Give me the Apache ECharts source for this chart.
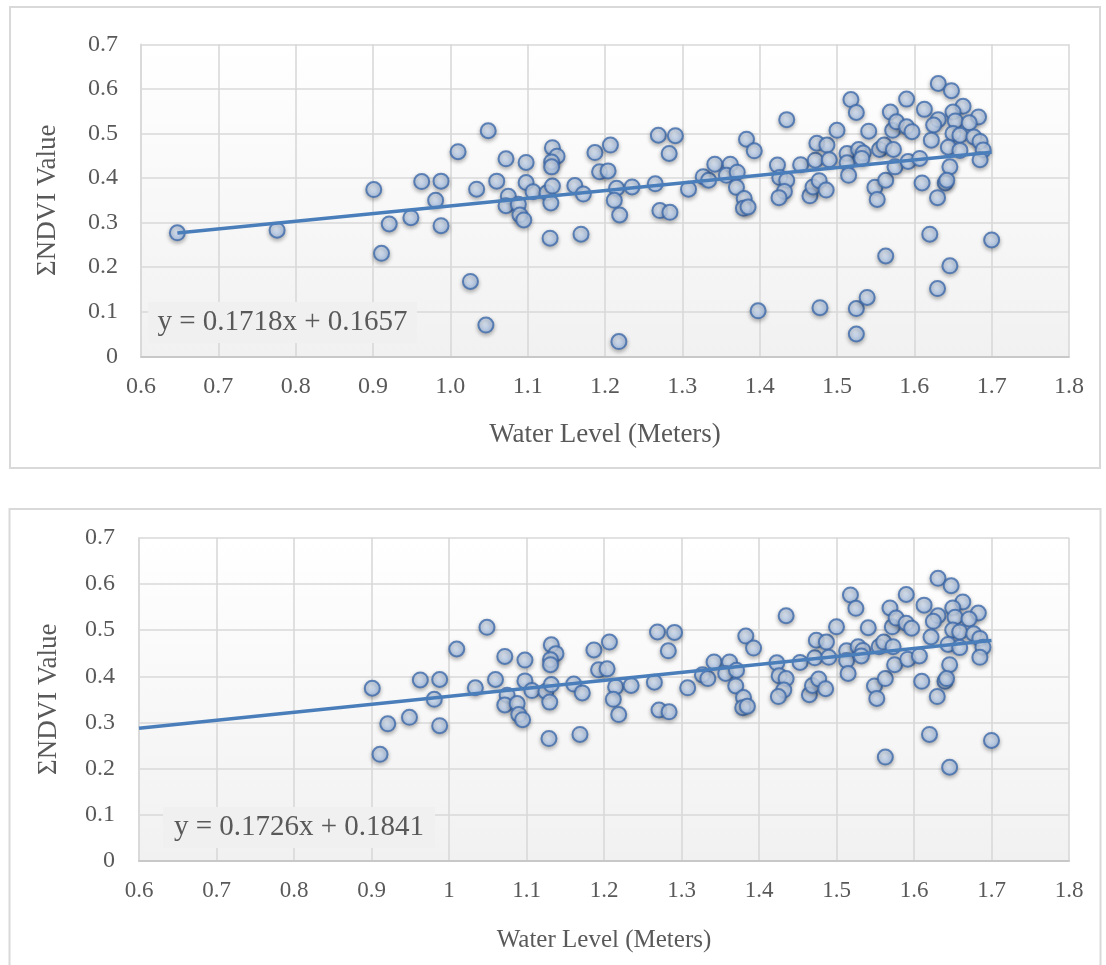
<!DOCTYPE html>
<html>
<head>
<meta charset="utf-8">
<script src="https://cdn.jsdelivr.net/npm/echarts@6/dist/echarts.min.js"></script>
<style>
  html, body { margin: 0; padding: 0; background: #ffffff; }
  #chart { width: 1106px; height: 965px; }
</style>
</head>
<body>
<div id="chart"></div>
<script>
// Water level (m) vs ΣNDVI, observations common to both panels
const sharedPoints = [
  [0.901, 0.374], [0.911, 0.231], [0.921, 0.297], [0.949, 0.311], [0.963, 0.392],
  [0.981, 0.350], [0.988, 0.393], [0.988, 0.293], [1.010, 0.459], [1.034, 0.375],
  [1.049, 0.506], [1.060, 0.393], [1.072, 0.443], [1.075, 0.359], [1.072, 0.338],
  [1.088, 0.341], [1.090, 0.317], [1.095, 0.306], [1.098, 0.435], [1.098, 0.390],
  [1.107, 0.369], [1.125, 0.367], [1.132, 0.382], [1.130, 0.344], [1.132, 0.468],
  [1.138, 0.449], [1.131, 0.436], [1.131, 0.425], [1.129, 0.265], [1.161, 0.383],
  [1.172, 0.364], [1.169, 0.274], [1.187, 0.457], [1.207, 0.474], [1.193, 0.414],
  [1.204, 0.416], [1.215, 0.377], [1.212, 0.350], [1.219, 0.317], [1.235, 0.380],
  [1.265, 0.387], [1.269, 0.496], [1.291, 0.495], [1.283, 0.455], [1.271, 0.327],
  [1.284, 0.323], [1.308, 0.375], [1.327, 0.403], [1.334, 0.395], [1.342, 0.431],
  [1.362, 0.431], [1.357, 0.406], [1.371, 0.413], [1.370, 0.379], [1.383, 0.487],
  [1.393, 0.461], [1.380, 0.354], [1.379, 0.332], [1.385, 0.335], [1.435, 0.531],
  [1.423, 0.429], [1.426, 0.401], [1.435, 0.395], [1.432, 0.370], [1.425, 0.356],
  [1.453, 0.430], [1.465, 0.360], [1.469, 0.380], [1.477, 0.394], [1.486, 0.373],
  [1.472, 0.440], [1.474, 0.478], [1.487, 0.474], [1.490, 0.441], [1.500, 0.507],
  [1.518, 0.576], [1.525, 0.547], [1.513, 0.455], [1.513, 0.434], [1.515, 0.406],
  [1.528, 0.464], [1.534, 0.456], [1.532, 0.444], [1.541, 0.505], [1.555, 0.464],
  [1.561, 0.474], [1.549, 0.379], [1.552, 0.352], [1.563, 0.395], [1.569, 0.548],
  [1.572, 0.507], [1.631, 0.612], [1.648, 0.596], [1.590, 0.577], [1.613, 0.554],
  [1.663, 0.561], [1.650, 0.548], [1.631, 0.531], [1.683, 0.537], [1.625, 0.519],
  [1.653, 0.528], [1.671, 0.524], [1.577, 0.526], [1.590, 0.515], [1.597, 0.504],
  [1.650, 0.500], [1.659, 0.496], [1.677, 0.492], [1.685, 0.482], [1.622, 0.485],
  [1.644, 0.469], [1.659, 0.462], [1.689, 0.463], [1.685, 0.441], [1.573, 0.464],
  [1.575, 0.425], [1.592, 0.437], [1.607, 0.444], [1.646, 0.425], [1.610, 0.389],
  [1.640, 0.389], [1.642, 0.395], [1.630, 0.356], [1.620, 0.274], [1.700, 0.261],
  [1.563, 0.225], [1.646, 0.203]
];

// Low-water and low-NDVI observations plotted only in the upper panel
const upperOnlyPoints = [
  [0.647, 0.277], [0.776, 0.283], [1.026, 0.168], [1.046, 0.070], [1.218, 0.033],
  [1.398, 0.102], [1.478, 0.109], [1.525, 0.107], [1.539, 0.132], [1.525, 0.050],
  [1.630, 0.152]
];

// Linear fits as printed on each panel
const upperFit = { slope: 0.1718, intercept: 0.1657, from: 0.647, to: 1.70 };
const lowerFit = { slope: 0.1726, intercept: 0.1841, from: 0.6, to: 1.70 };

const xTicks = { min: 0.6, max: 1.8, step: 0.1 };
const yTicks = { min: 0, max: 0.7, step: 0.1 };

const xTitle = 'Water Level (Meters)';
const yTitle = 'ΣNDVI Value';

const upperPoints = sharedPoints.concat(upperOnlyPoints);
const lowerPoints = sharedPoints;

function fitLine(f) {
  return [
    [f.from, f.slope * f.from + f.intercept],
    [f.to, f.slope * f.to + f.intercept]
  ];
}
function equation(f) {
  return 'y = ' + f.slope.toFixed(4) + 'x + ' + f.intercept.toFixed(4);
}

const FONT = '"Liberation Serif", "Times New Roman", serif';
const TEXT = '#595959';
const GRID_LINE = '#d9d9d9';

const plotBg = {
  type: 'linear', x: 0, y: 0, x2: 0, y2: 1,
  colorStops: [{ offset: 0, color: '#ffffff' }, { offset: 1, color: '#f1f1f1' }]
};

const markerStyle = {
  color: {
    type: 'radial', x: 0.4, y: 0.35, r: 0.75,
    colorStops: [{ offset: 0, color: '#e2ecfa' }, { offset: 1, color: '#9dbbe6' }]
  },
  borderColor: '#3d6aab',
  borderWidth: 2,
  shadowBlur: 4,
  shadowOffsetY: 2,
  shadowColor: 'rgba(0,0,0,0.35)'
};

function xAxis(gridIndex, fontSize, titleSize, titleGap, fmt) {
  return {
    type: 'value', gridIndex,
    min: xTicks.min, max: xTicks.max, interval: xTicks.step,
    name: xTitle, nameLocation: 'middle', nameGap: titleGap,
    nameTextStyle: { fontFamily: FONT, fontSize: titleSize, color: TEXT },
    axisLine: { show: true, onZero: false, lineStyle: { color: '#c8c8c8', width: 2 } },
    axisTick: { show: false },
    axisLabel: { fontFamily: FONT, fontSize, color: TEXT, margin: 18, formatter: fmt },
    splitLine: { show: true, lineStyle: { color: GRID_LINE, width: 1.6 } }
  };
}
function yAxis(gridIndex, fontSize, titleSize, titleGap, margin) {
  return {
    type: 'value', gridIndex,
    min: yTicks.min, max: yTicks.max, interval: yTicks.step,
    name: yTitle, nameLocation: 'middle', nameGap: titleGap, nameRotate: 90,
    nameTextStyle: { fontFamily: FONT, fontSize: titleSize, color: TEXT },
    axisLine: { show: true, lineStyle: { color: GRID_LINE, width: 1.6 } },
    axisTick: { show: false },
    axisLabel: { fontFamily: FONT, fontSize, color: TEXT, margin },
    splitLine: { show: true, lineStyle: { color: GRID_LINE, width: 1.6 } }
  };
}

const chart = echarts.init(document.getElementById('chart'), null, { renderer: 'canvas' });

chart.setOption({
  animation: false,
  backgroundColor: '#ffffff',
  grid: [
    { left: 141, top: 44.3, width: 928, height: 312, show: true, backgroundColor: plotBg, borderWidth: 0 },
    { left: 139, top: 537.7, width: 930, height: 323.3, show: true, backgroundColor: plotBg, borderWidth: 0 }
  ],
  xAxis: [
    xAxis(0, 24, 27, 65, v => v.toFixed(1)),
    xAxis(1, 23, 25, 67, v => String(+v.toFixed(1)))
  ],
  yAxis: [
    yAxis(0, 24, 27, 80, 23),
    yAxis(1, 24, 27, 77, 24)
  ],
  graphic: [
    { type: 'rect', shape: { x: 10, y: 7, width: 1090, height: 461 },
      style: { fill: 'none', stroke: GRID_LINE, lineWidth: 2 }, silent: true, z: 0 },
    { type: 'rect', shape: { x: 9.5, y: 509, width: 1091, height: 470 },
      style: { fill: 'none', stroke: GRID_LINE, lineWidth: 2 }, silent: true, z: 0 },
    { type: 'rect', shape: { x: 148, y: 302, width: 269, height: 41 },
      style: { fill: '#f0f0f0' }, silent: true, z: 10 },
    { type: 'text', x: 282.5, y: 322.5, z: 11,
      style: { text: equation(upperFit), font: '29px ' + FONT, fill: TEXT, align: 'center', verticalAlign: 'middle' } },
    { type: 'rect', shape: { x: 163, y: 807, width: 272, height: 41 },
      style: { fill: '#f0f0f0' }, silent: true, z: 10 },
    { type: 'text', x: 299, y: 827.5, z: 11,
      style: { text: equation(lowerFit), font: '29px ' + FONT, fill: TEXT, align: 'center', verticalAlign: 'middle' } }
  ],
  series: [
    { type: 'scatter', xAxisIndex: 0, yAxisIndex: 0, data: upperPoints,
      symbol: 'circle', symbolSize: 15, itemStyle: markerStyle, z: 3 },
    { type: 'line', xAxisIndex: 0, yAxisIndex: 0, data: fitLine(upperFit),
      symbol: 'none', lineStyle: { color: '#4a7ebb', width: 3.5 }, z: 4 },
    { type: 'scatter', xAxisIndex: 1, yAxisIndex: 1, data: lowerPoints,
      symbol: 'circle', symbolSize: 15, itemStyle: markerStyle, z: 3 },
    { type: 'line', xAxisIndex: 1, yAxisIndex: 1, data: fitLine(lowerFit),
      symbol: 'none', lineStyle: { color: '#4a7ebb', width: 3.5 }, z: 4 }
  ]
});
</script>
</body>
</html>
